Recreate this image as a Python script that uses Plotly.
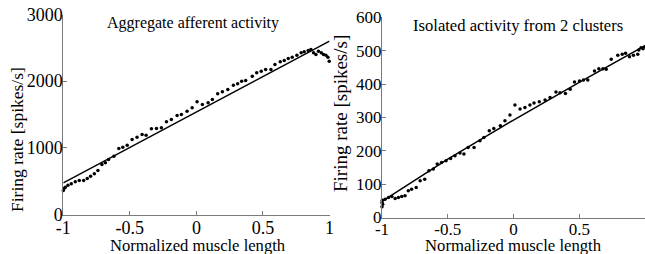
import plotly.graph_objects as go

# ---------------- data: left panel (aggregate afferent activity) ----------------
agg_x = [-1.0, -0.995, -0.985, -0.965, -0.94, -0.91, -0.88, -0.847, -0.82, -0.795,
         -0.767, -0.74, -0.71, -0.684, -0.66, -0.62, -0.583, -0.553, -0.52, -0.483,
         -0.446, -0.408, -0.378, -0.338, -0.30, -0.263, -0.225, -0.188, -0.145, -0.113,
         -0.07, -0.032, 0.005, 0.045, 0.088, 0.12, 0.16, 0.195, 0.236, 0.278,
         0.31, 0.34, 0.37, 0.42, 0.453, 0.487, 0.52, 0.56, 0.59, 0.63,
         0.66, 0.69, 0.72, 0.755, 0.787, 0.81, 0.84, 0.86, 0.88, 0.898,
         0.917, 0.938, 0.955, 0.973, 0.988, 0.998]
agg_y = [360, 390, 410, 440, 460, 490, 510, 510, 540, 575,
         610, 660, 750, 775, 825, 875, 990, 1010, 1040, 1125,
         1160, 1200, 1190, 1285, 1290, 1300, 1390, 1425, 1485, 1500,
         1550, 1600, 1690, 1650, 1675, 1725, 1810, 1840, 1875, 1940,
         1960, 2000, 2010, 2075, 2125, 2150, 2175, 2175, 2250, 2290,
         2310, 2340, 2360, 2390, 2425, 2440, 2460, 2475, 2425, 2400,
         2450, 2425, 2400, 2390, 2360, 2300]
agg_fit_x = [-1, 1]
agg_fit_y = [475, 2600]

# ---------------- data: right panel (isolated activity, 2 clusters) ----------------
iso_x = [-1.0, -1.0, -0.998, -0.995, -0.977, -0.95, -0.925, -0.9, -0.875, -0.85,
         -0.825, -0.8, -0.775, -0.74, -0.71, -0.675, -0.643, -0.61, -0.58, -0.547,
         -0.513, -0.478, -0.445, -0.407, -0.377, -0.345, -0.3, -0.255, -0.225, -0.184,
         -0.15, -0.1, -0.065, -0.027, 0.011, 0.05, 0.087, 0.125, 0.156, 0.196,
         0.24, 0.278, 0.323, 0.354, 0.395, 0.431, 0.464, 0.502, 0.532, 0.565,
         0.616, 0.649, 0.68, 0.705, 0.743, 0.793, 0.827, 0.852, 0.882, 0.912,
         0.945, 0.953, 0.97, 0.985, 1.0]
iso_y = [32, 45, 52, 40, 55, 60, 63, 57, 60, 63,
         65, 80, 85, 90, 110, 115, 140, 145, 160, 165,
         170, 177, 185, 193, 190, 210, 210, 230, 240, 260,
         267, 275, 290, 307, 337, 325, 330, 337, 343, 347,
         352, 360, 376, 374, 372, 384, 406, 409, 412, 412,
         439, 446, 446, 444, 474, 486, 489, 492, 482, 486,
         489, 502, 509, 506, 512]
iso_fit_x = [-1, -0.5, 0, 0.5, 1]
iso_fit_y = [48, 175, 292, 405, 515]

x_tickvals = [-1, -0.5, 0, 0.5, 1]
x_ticktext = ["-1", "-0.5", "0", "0.5", "1"]
agg_ytick = [0, 1000, 2000, 3000]
iso_ytick = [0, 100, 200, 300, 400, 500, 600]

titles = ["Aggregate afferent activity", "Isolated activity from 2 clusters"]
x_title = "Normalized muscle length"
y_title = "Firing rate [spikes/s]"

FONT = "Liberation Serif"
W, H = 645, 254
AX = "#7a7a7a"


def axis(size, standoff, **kw):
    d = dict(showgrid=False, zeroline=False, showline=True, linecolor=AX,
             linewidth=1, ticks="inside", ticklen=4, tickcolor=AX, automargin=False,
             ticklabelstandoff=standoff,
             tickfont=dict(family=FONT, color="black", size=size))
    d.update(kw)
    return d


fig = go.Figure()
fig.add_trace(go.Scatter(x=agg_x, y=agg_y, mode="markers",
                         marker=dict(color="black", size=3.5), xaxis="x", yaxis="y",
                         showlegend=False, cliponaxis=False))
fig.add_trace(go.Scatter(x=agg_fit_x, y=agg_fit_y, mode="lines",
                         line=dict(color="black", width=1.5), xaxis="x", yaxis="y",
                         showlegend=False))
fig.add_trace(go.Scatter(x=iso_x, y=iso_y, mode="markers",
                         marker=dict(color="black", size=3.5), xaxis="x2", yaxis="y2",
                         showlegend=False, cliponaxis=False))
fig.add_trace(go.Scatter(x=iso_fit_x, y=iso_fit_y, mode="lines",
                         line=dict(color="black", width=1.5), xaxis="x2", yaxis="y2",
                         showlegend=False))

fig.update_layout(
    width=W, height=H, margin=dict(l=0, r=0, t=0, b=0, autoexpand=False),
    paper_bgcolor="white", plot_bgcolor="white",
    font=dict(family=FONT, color="black"),
    xaxis=axis(18, -3, domain=[63.3 / W, 329.5 / W], range=[-1, 1], anchor="y",
               tickvals=x_tickvals, ticktext=x_ticktext),
    yaxis=axis(18, -4, domain=[(H - 214.5) / H, (H - 14.5) / H], range=[0, 3000],
               anchor="x", tickvals=agg_ytick),
    xaxis2=axis(17, -4, domain=[382 / W, 1.0], range=[-1, 1], anchor="y2",
                tickvals=x_tickvals, ticktext=x_ticktext),
    yaxis2=axis(17, -4, domain=[(H - 217.5) / H, (H - 17.3) / H], range=[0, 600],
                anchor="x2", tickvals=iso_ytick),
)

ann = [
    dict(text=titles[0], x=193 / W, y=1 - 23 / H, size=16),
    dict(text=titles[1], x=518 / W, y=1 - 25 / H, size=16.6),
    dict(text=x_title, x=197.5 / W, y=1 - 245 / H, size=16.6),
    dict(text=x_title, x=513.3 / W, y=1 - 245 / H, size=16.7),
]
for a in ann:
    fig.add_annotation(text=a["text"], x=a["x"], y=a["y"], xref="paper", yref="paper",
                       xanchor="center", yanchor="middle", showarrow=False,
                       font=dict(family=FONT, size=a["size"], color="black"))
fig.add_annotation(text=y_title, x=17 / W, y=1 - 140 / H, xref="paper", yref="paper",
                   xanchor="center", yanchor="middle", showarrow=False, textangle=-90,
                   font=dict(family=FONT, size=17.5, color="black"))
fig.add_annotation(text=y_title, x=340 / W, y=1 - 114 / H, xref="paper", yref="paper",
                   xanchor="center", yanchor="middle", showarrow=False, textangle=-90,
                   font=dict(family=FONT, size=19, color="black"))

fig.write_html("out.html", config={"displayModeBar": False},
               post_script="document.body.style.margin='0';"
                           "document.body.style.overflow='hidden';")
